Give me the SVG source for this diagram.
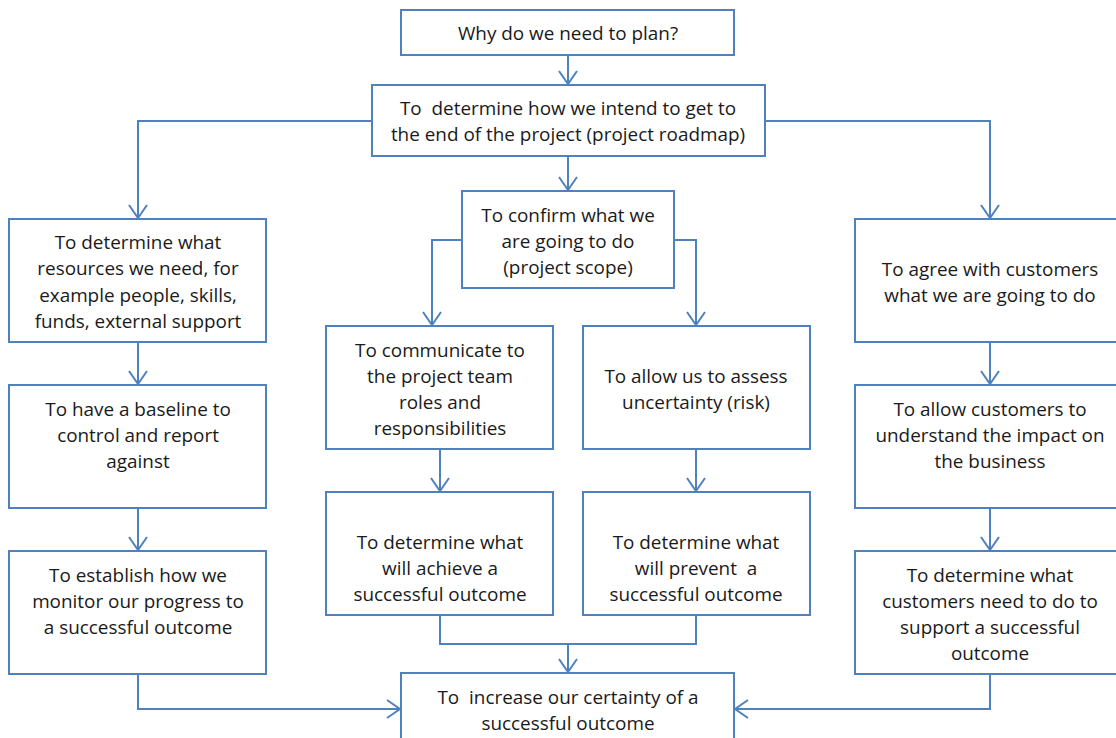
<svg xmlns="http://www.w3.org/2000/svg" width="1116" height="738" viewBox="0 0 1116 738">
<defs>
<marker id="ah" markerWidth="24" markerHeight="24" refX="14" refY="10" orient="auto" markerUnits="userSpaceOnUse">
<path d="M1,1 L14,10 L1,19" fill="none" stroke="#4f81bd" stroke-width="2"/>
</marker>
<style>
.box{fill:#fff;stroke:#4f81bd;stroke-width:2}
.c{fill:none;stroke:#4f81bd;stroke-width:2}
.a{marker-end:url(#ah)}
text{font-family:"Open Sans","Liberation Sans",Arial,sans-serif;font-size:18.9px;fill:#1a1a1a;text-anchor:middle}
</style>
</defs>
<rect width="1116" height="738" fill="#fff"/>
<g id="connectors">
<path class="c a" d="M568,55 V84"/>
<path class="c a" d="M372,121 H138 V218"/>
<path class="c a" d="M765,121 H990 V218"/>
<path class="c a" d="M568,156 V190"/>
<path class="c a" d="M462,240 H432 V325"/>
<path class="c a" d="M674,240 H696 V325"/>
<path class="c a" d="M138,342 V384"/>
<path class="c a" d="M138,508 V550"/>
<path class="c a" d="M990,342 V384"/>
<path class="c a" d="M990,508 V550"/>
<path class="c a" d="M440,449 V491"/>
<path class="c a" d="M696,449 V491"/>
<path class="c" d="M440,615 V644 H696 V615"/>
<path class="c a" d="M568,644 V672"/>
<path class="c a" d="M138,674 V709 H400"/>
<path class="c a" d="M990,674 V709 H735"/>
</g>
<g id="n1"><rect class="box" x="401" y="10" width="333" height="45"/><text x="568" y="40">Why do we need to plan?</text></g>
<g id="n2"><rect class="box" x="372" y="85" width="393" height="71"/><text x="568" y="115" xml:space="preserve">To  determine how we intend to get to</text><text x="568" y="141">the end of the project (project roadmap)</text></g>
<g id="n3"><rect class="box" x="9" y="219" width="257" height="123"/><text x="138" y="249">To determine what</text><text x="138" y="275">resources we need, for</text><text x="138" y="302">example people, skills,</text><text x="138" y="328">funds, external support</text></g>
<g id="n4"><rect class="box" x="9" y="385" width="257" height="123"/><text x="138" y="416">To have a baseline to</text><text x="138" y="442">control and report</text><text x="138" y="468">against</text></g>
<g id="n5"><rect class="box" x="9" y="551" width="257" height="123"/><text x="138" y="582">To establish how we</text><text x="138" y="608">monitor our progress to</text><text x="138" y="634">a successful outcome</text></g>
<g id="n6"><rect class="box" x="462" y="191" width="212" height="97"/><text x="568" y="222">To confirm what we</text><text x="568" y="248">are going to do</text><text x="568" y="274">(project scope)</text></g>
<g id="n7"><rect class="box" x="326" y="326" width="227" height="123"/><text x="440" y="357">To communicate to</text><text x="440" y="383">the project team</text><text x="440" y="409">roles and</text><text x="440" y="435">responsibilities</text></g>
<g id="n8"><rect class="box" x="583" y="326" width="227" height="123"/><text x="696" y="383">To allow us to assess</text><text x="696" y="409">uncertainty (risk)</text></g>
<g id="n9"><rect class="box" x="326" y="492" width="227" height="123"/><text x="440" y="549">To determine what</text><text x="440" y="575">will achieve a</text><text x="440" y="601">successful outcome</text></g>
<g id="n10"><rect class="box" x="583" y="492" width="227" height="123"/><text x="696" y="549">To determine what</text><text x="696" y="575" xml:space="preserve">will prevent  a</text><text x="696" y="601">successful outcome</text></g>
<g id="n11"><rect class="box" x="855" y="219" width="270" height="123"/><text x="990" y="276">To agree with customers</text><text x="990" y="302">what we are going to do</text></g>
<g id="n12"><rect class="box" x="855" y="385" width="270" height="123"/><text x="990" y="416">To allow customers to</text><text x="990" y="442">understand the impact on</text><text x="990" y="468">the business</text></g>
<g id="n13"><rect class="box" x="855" y="551" width="270" height="123"/><text x="990" y="582">To determine what</text><text x="990" y="608">customers need to do to</text><text x="990" y="634">support a successful</text><text x="990" y="660">outcome</text></g>
<g id="n14"><rect class="box" x="401" y="673" width="333" height="80"/><text x="568" y="704" xml:space="preserve">To  increase our certainty of a</text><text x="568" y="730">successful outcome</text></g>
</svg>
